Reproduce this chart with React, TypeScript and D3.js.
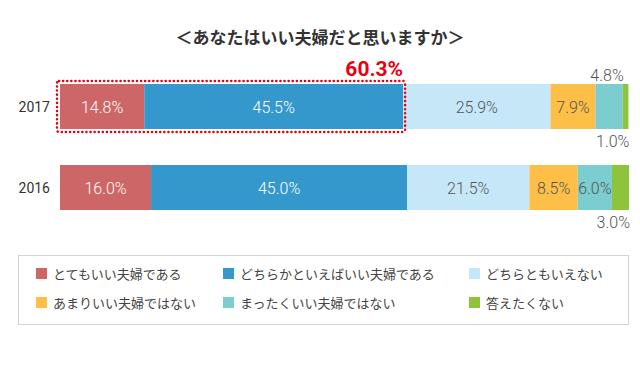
import React, { useRef, useEffect } from 'react';
import * as d3 from 'd3';

const years = ['2017', '2016'];
const categories = [
  'とてもいい夫婦である',
  'どちらかといえばいい夫婦である',
  'どちらともいえない',
  'あまりいい夫婦ではない',
  'まったくいい夫婦ではない',
  '答えたくない',
];
const values2017 = [14.8, 45.5, 25.9, 7.9, 4.8, 1.0];
const values2016 = [16.0, 45.0, 21.5, 8.5, 6.0, 3.0];
const colors = ['#cd6666', '#3598cc', '#c6e7f8', '#fdbf47', '#7bcdd0', '#8dc43b'];
const highlightLabel = '60.3%';

const App: React.FC = () => {
  const svgRef = useRef<SVGSVGElement | null>(null);

  useEffect(() => {
    const width = 640;
    const height = 375;
    const svg = d3.select(svgRef.current)
      .attr('width', width)
      .attr('height', height)
      .style('position', 'absolute')
      .style('left', '0px')
      .style('top', '0px');
    svg.selectAll('*').remove();

    const font = '"Noto Sans CJK JP", "Noto Sans", sans-serif';
    const numFont = 'Roboto, "Noto Sans", sans-serif';

    svg.append('text')
      .attr('x', 320).attr('y', 44)
      .attr('text-anchor', 'middle')
      .style('font-family', font)
      .style('font-size', '17px')
      .style('font-weight', 'bold')
      .style('fill', '#333')
      .text('＜あなたはいい夫婦だと思いますか＞');

    const x = d3.scaleLinear().domain([0, 100]).range([60, 629]);
    const y = d3.scaleBand().domain(years).range([84, 210]).paddingInner(36 / 81).paddingOuter(0);

    const rows = [values2017, values2016];
    rows.forEach((vals, ri) => {
      const yr = years[ri];
      const y0 = y(yr)!;
      const bh = y.bandwidth();
      let acc = 0;
      vals.forEach((v, i) => {
        const x0 = x(acc);
        const x1 = x(acc + v);
        acc += v;
        svg.append('rect')
          .attr('x', x0).attr('y', y0)
          .attr('width', x1 - x0).attr('height', bh)
          .attr('fill', colors[i]);
        const label = v.toFixed(1) + '%';
        const w = x1 - x0;
        let lx = (x0 + x1) / 2;
        let ly = y0 + bh / 2 + 6;
        let anchor = 'middle';
        if (w < 30) {
          anchor = 'end';
          if (ri === 0 && i === 4) { lx = x1 + 1; ly = y0 - 3; }
          else { lx = x1 + 1; ly = y0 + bh + 18; }
        }
        svg.append('text')
          .attr('x', lx).attr('y', ly)
          .attr('text-anchor', anchor)
          .style('font-family', numFont)
          .style('font-size', '16px')
          .style('font-weight', 300)
          .style('fill', i < 2 && w >= 30 ? '#fff' : '#555')
          .text(label);
      });

      svg.append('text')
        .attr('x', 50).attr('y', y0 + bh / 2 + 5)
        .attr('text-anchor', 'end')
        .style('font-family', numFont)
        .style('font-size', '14px')
        .style('fill', '#333')
        .text(yr);
    });

    // highlight box for 2017 positive answers
    const hy = y(years[0])!;
    const hx1 = x(values2017[0] + values2017[1]);
    svg.append('rect')
      .attr('x', x(0) - 3).attr('y', hy - 3)
      .attr('width', hx1 - x(0) + 5).attr('height', y.bandwidth() + 6)
      .attr('rx', 2)
      .attr('fill', 'none')
      .attr('stroke', '#e60012')
      .attr('stroke-width', 2.5)
      .attr('stroke-dasharray', '0.1 4')
      .attr('stroke-linecap', 'round');
    svg.append('text')
      .attr('x', hx1).attr('y', hy - 8)
      .attr('text-anchor', 'end')
      .style('font-family', numFont)
      .style('font-size', '21px')
      .style('font-weight', 'bold')
      .style('fill', '#e60012')
      .text(highlightLabel);

    // legend
    const lg = svg.append('g');
    lg.append('rect')
      .attr('x', 18.5).attr('y', 255.5)
      .attr('width', 610).attr('height', 69)
      .attr('fill', '#fff')
      .attr('stroke', '#d3d3d3');
    const colX = [36, 223, 469];
    const rowY = [274, 303];
    categories.forEach((c, i) => {
      const cx = colX[i % 3];
      const cy = rowY[Math.floor(i / 3)];
      lg.append('rect')
        .attr('x', cx).attr('y', cy - 6)
        .attr('width', 11).attr('height', 11)
        .attr('fill', colors[i]);
      lg.append('text')
        .attr('x', cx + 17).attr('y', cy + 5)
        .style('font-family', font)
        .style('font-size', '13px')
        .style('fill', '#444')
        .text(c);
    });
  }, []);

  return <svg ref={svgRef}></svg>;
};

export default App;
